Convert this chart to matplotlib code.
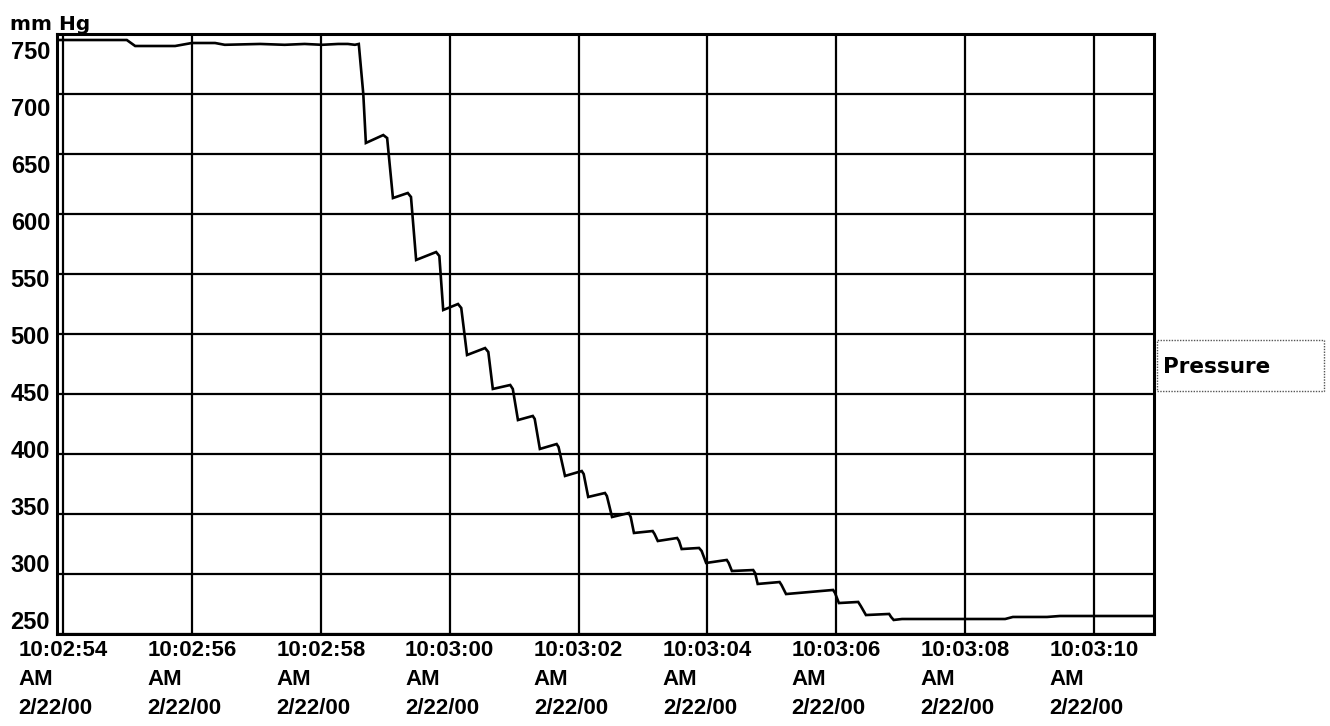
import matplotlib
matplotlib.use("Agg")
import matplotlib.pyplot as plt
from matplotlib.patches import Rectangle

# ---- data (seconds after 10:02:54 AM, pressure in mm Hg) ----
t_sec = [-0.09, 0.99, 1.12, 1.74, 2.00, 2.36, 2.51, 3.06, 3.44, 3.75, 4.02, 4.27, 4.42, 4.53,
         4.59, 4.66, 4.70, 4.97, 5.03, 5.12, 5.35, 5.40, 5.48, 5.79, 5.84, 5.90, 6.13, 6.18,
         6.27, 6.55, 6.60, 6.67, 6.94, 6.98, 7.06, 7.29, 7.32, 7.40, 7.66, 7.69, 7.79, 8.05,
         8.08, 8.15, 8.41, 8.44, 8.52, 8.78, 8.81, 8.86, 9.15, 9.18, 9.23, 9.53, 9.56, 9.60,
         9.87, 9.91, 9.98, 10.30, 10.33, 10.38, 10.71, 10.74, 10.78, 11.12, 11.15, 11.22,
         11.95, 11.98, 12.04, 12.34, 12.38, 12.46, 12.82, 12.85, 12.89, 13.02, 14.62, 14.74,
         15.27, 15.47, 16.93]
pressure = [745.0, 745.0, 740.0, 740.0, 742.5, 742.5, 741.0, 741.7, 741.0, 741.7, 741.0, 741.7,
            741.7, 741.0, 741.7, 700.0, 659.2, 665.8, 663.3, 613.3, 617.5, 614.2, 561.7, 568.3,
            565.0, 520.0, 525.0, 521.7, 482.5, 488.3, 485.0, 454.2, 457.5, 454.2, 428.3, 431.7,
            429.2, 404.2, 408.3, 405.8, 381.7, 385.8, 383.3, 364.2, 367.5, 365.0, 347.5, 350.8,
            347.5, 334.2, 335.8, 333.3, 327.5, 330.0, 327.5, 320.8, 321.7, 319.2, 309.2, 311.7,
            309.2, 302.5, 303.3, 300.8, 291.7, 293.3, 290.8, 283.3, 286.7, 284.2, 275.8, 276.7,
            273.3, 265.8, 266.7, 264.2, 261.7, 262.5, 262.5, 264.2, 264.2, 265.0, 265.0]

x_ticks = [0, 2, 4, 6, 8, 10, 12, 14, 16]
x_labels = ["10:02:54\nAM\n2/22/00", "10:02:56\nAM\n2/22/00", "10:02:58\nAM\n2/22/00",
            "10:03:00\nAM\n2/22/00", "10:03:02\nAM\n2/22/00", "10:03:04\nAM\n2/22/00",
            "10:03:06\nAM\n2/22/00", "10:03:08\nAM\n2/22/00", "10:03:10\nAM\n2/22/00"]
y_ticks = [250, 300, 350, 400, 450, 500, 550, 600, 650, 700, 750]
y_labels = [str(v) for v in y_ticks]
series_name = "Pressure"
unit_label = "mm Hg"

W, H = 1330, 726
fig = plt.figure(figsize=(W / 100, H / 100), dpi=100)
ax = fig.add_axes([57 / W, 1 - 634 / H, (1154 - 57) / W, 600 / H])

ax.plot(t_sec, pressure, color="black", lw=1.9, solid_joinstyle="miter", zorder=3)
ax.set_xlim(-0.093, 16.93)
ax.set_ylim(250, 750)
ax.set_xticks(x_ticks)
ax.set_xticklabels(x_labels, family="Liberation Sans", weight="bold", fontsize=16,
                   linespacing=1.5, ha="center", multialignment="left")
ax.set_yticks(y_ticks)
ax.tick_params(axis="both", length=0)
ax.tick_params(axis="x", pad=4)
ax.tick_params(axis="y", labelleft=False)
ax.grid(True, color="black", lw=1.6)
for s in ax.spines.values():
    s.set_linewidth(2.2)
    s.set_color("black")

# y tick labels on a twin scale (original software spaced labels slightly tighter than gridlines)
ax2 = ax.twinx()
ax2.set_ylim(237.3, 763.6)
ax2.set_yticks(y_ticks)
ax2.set_yticklabels(y_labels, family="Liberation Sans", weight="bold", fontsize=17)
ax2.yaxis.set_ticks_position("left")
ax2.tick_params(axis="y", length=0, pad=5, labelleft=True, labelright=False)
for s in ax2.spines.values():
    s.set_visible(False)

fig.text(10 / W, 1 - 30 / H, unit_label, family="DejaVu Sans", weight="bold",
         fontsize=14.5, va="baseline", ha="left")

# legend box
fig.patches.append(Rectangle((1157 / W, 1 - 391 / H), 167 / W, 51 / H,
                             transform=fig.transFigure, fill=False,
                             edgecolor="#555555", lw=1.0, linestyle=(0, (1, 1))))
fig.text(1163 / W, 1 - 373 / H, series_name, family="DejaVu Sans", weight="bold",
         fontsize=15.5, va="baseline", ha="left")

fig.savefig("out.png", dpi=100)
